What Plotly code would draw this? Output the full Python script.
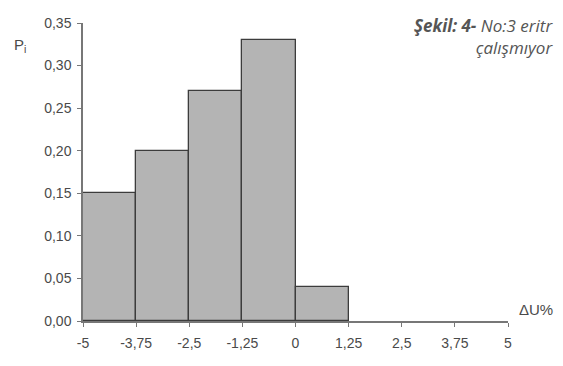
import plotly.graph_objects as go

bin_lo = [-5, -3.75, -2.5, -1.25, 0]
bin_hi = [-3.75, -2.5, -1.25, 0, 1.25]
p_vals = [0.15, 0.20, 0.27, 0.33, 0.04]

x_ticks = [-5, -3.75, -2.5, -1.25, 0, 1.25, 2.5, 3.75, 5]
x_labels = ["-5", "-3,75", "-2,5", "-1,25", "0", "1,25", "2,5", "3,75", "5"]
y_ticks = [0, 0.05, 0.10, 0.15, 0.20, 0.25, 0.30, 0.35]
y_labels = ["0,00", "0,05", "0,10", "0,15", "0,20", "0,25", "0,30", "0,35"]

centers = [(a + b) / 2 for a, b in zip(bin_lo, bin_hi)]
widths = [b - a for a, b in zip(bin_lo, bin_hi)]

font_family = "Liberation Sans, Arial, sans-serif"
txt_color = "#4a4a4a"

fig = go.Figure()
fig.add_trace(go.Bar(
    x=centers, y=p_vals, width=widths,
    marker=dict(color="#b4b4b4", line=dict(color="#3c3c3c", width=1.3)),
    showlegend=False,
))

fig.update_layout(
    width=547, height=350,
    margin=dict(l=75, r=47, t=7, b=26),
    paper_bgcolor="white", plot_bgcolor="white",
    font=dict(family=font_family, size=14, color=txt_color),
    bargap=0,
    xaxis=dict(
        range=[-5, 5], tickvals=x_ticks, ticktext=x_labels,
        showgrid=False, zeroline=False, showline=True,
        linecolor="#777", linewidth=1.5,
        ticks="outside", ticklen=4, tickcolor="#777",
        tickfont=dict(size=14, color=txt_color),
        ticklabeloverflow="allow", ticklabelstandoff=4,
    ),
    yaxis=dict(
        range=[0, 0.35], tickvals=y_ticks, ticktext=y_labels,
        showgrid=False, zeroline=False, showline=True,
        linecolor="#777", linewidth=1.5,
        ticks="outside", ticklen=4, tickcolor="#777",
        tickfont=dict(size=14, color=txt_color),
        ticklabeloverflow="allow", ticklabelstandoff=3,
    ),
    annotations=[
        dict(text="P<sub>i</sub>", xref="paper", yref="paper",
             x=0, y=1, xanchor="left", yanchor="middle",
             xshift=-71, yshift=-22, showarrow=False,
             font=dict(size=15, color=txt_color)),
        dict(text="ΔU%", xref="paper", yref="paper",
             x=1.0, y=0, xanchor="right", yanchor="middle",
             xshift=47, yshift=12, showarrow=False,
             font=dict(size=15, color=txt_color)),
        dict(text="<b>Şekil: 4-</b> No:3 eritr<br>çalışmıyor", xref="paper", yref="paper",
             x=1.0, y=1.0, xanchor="right", yanchor="middle", align="right",
             xshift=47, yshift=-13, showarrow=False,
             font=dict(family="Open Sans, sans-serif", size=17, color="#555", style="italic")),
    ],
)

fig.write_html("out.html")
